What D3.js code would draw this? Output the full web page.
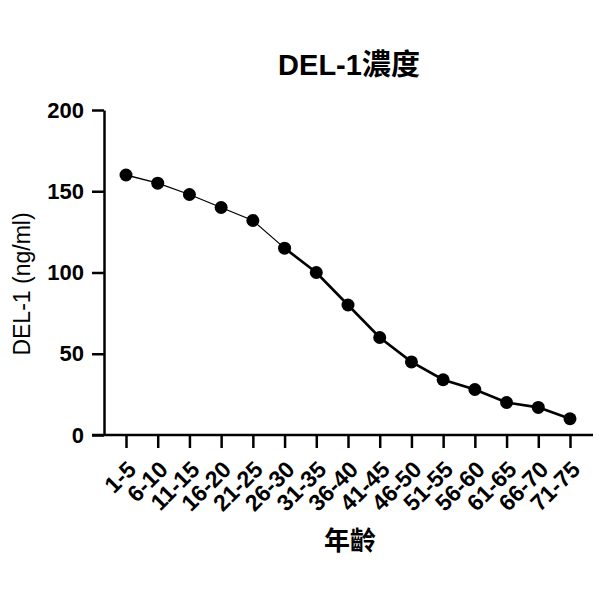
<!DOCTYPE html>
<html>
<head>
<meta charset="utf-8">
<script src="https://cdn.jsdelivr.net/npm/d3@7"></script>
<style>
  body { margin: 0; background: #fff; }
  text { font-family: "Liberation Sans", Arial, sans-serif; }
</style>
</head>
<body>
<div id="chart"></div>
<script>
// data
var ageGroups = ["1-5", "6-10", "11-15", "16-20", "21-25", "26-30", "31-35", "36-40",
                 "41-45", "46-50", "51-55", "56-60", "61-65", "66-70", "71-75"];
var del1 = [160, 155, 148, 140, 132, 115, 100, 80, 60, 45, 34, 28, 20, 17, 10];
var yTicks = [0, 50, 100, 150, 200];

var width = 600, height = 600;
var plotLeft = 104, plotBottom = 435, plotTop = 110;

var svg = d3.select("#chart").append("svg")
    .attr("width", width)
    .attr("height", height);

var x = d3.scalePoint()
    .domain(ageGroups)
    .range([126, 570]);

var y = d3.scaleLinear()
    .domain([0, 200])
    .range([plotBottom, plotTop]);

// y axis
var yAxis = svg.append("g")
    .attr("transform", "translate(" + plotLeft + ",0)")
    .call(d3.axisLeft(y).tickValues(yTicks).tickSize(12).tickPadding(8).tickSizeOuter(0));
yAxis.select(".domain").attr("stroke-width", 2.5);
yAxis.selectAll(".tick line").attr("stroke-width", 2.5);
yAxis.selectAll(".tick text")
    .attr("font-size", 22)
    .attr("font-weight", "bold")
    .attr("fill", "#000");

// x axis
var xAxis = svg.append("g")
    .attr("transform", "translate(0," + plotBottom + ")")
    .call(d3.axisBottom(x).tickSize(13).tickSizeOuter(0));
xAxis.select(".domain")
    .attr("d", "M" + (plotLeft - 12) + ",0H593")
    .attr("stroke-width", 2.5);
xAxis.selectAll(".tick line").attr("stroke-width", 2.5);
xAxis.selectAll(".tick text")
    .attr("font-size", 23)
    .attr("font-weight", "bold")
    .attr("fill", "#000")
    .attr("text-anchor", "end")
    .attr("dy", 0)
    .attr("y", 0)
    .attr("transform", "translate(11,36) rotate(-45)");

// line: thin at first, thicker from 26-30 onward
var line = d3.line()
    .x(function(d) { return x(d.g); })
    .y(function(d) { return y(d.v); });

var pts = ageGroups.map(function(g, i) { return {g: g, v: del1[i]}; });

svg.append("path")
    .datum(pts.slice(0, 6))
    .attr("d", line)
    .attr("fill", "none")
    .attr("stroke", "#000")
    .attr("stroke-width", 1.3);

svg.append("path")
    .datum(pts.slice(5))
    .attr("d", line)
    .attr("fill", "none")
    .attr("stroke", "#000")
    .attr("stroke-width", 2.6);

svg.selectAll("circle")
    .data(pts)
    .enter().append("circle")
    .attr("cx", function(d) { return x(d.g); })
    .attr("cy", function(d) { return y(d.v); })
    .attr("r", 6.5)
    .attr("fill", "#000");

// titles
svg.append("text")
    .attr("x", 349)
    .attr("y", 75)
    .attr("text-anchor", "middle")
    .attr("font-size", 29)
    .attr("font-weight", "bold")
    .style("font-family", "'Liberation Sans', 'Noto Sans CJK TC', sans-serif")
    .text("DEL-1濃度");

svg.append("text")
    .attr("x", 350)
    .attr("y", 550)
    .attr("text-anchor", "middle")
    .attr("font-size", 26)
    .attr("font-weight", "bold")
    .style("font-family", "'Noto Sans CJK TC', sans-serif")
    .text("年齡");

svg.append("text")
    .attr("transform", "translate(30,284) rotate(-90)")
    .attr("text-anchor", "middle")
    .attr("font-size", 23)
    .text("DEL-1 (ng/ml)");
</script>
</body>
</html>
